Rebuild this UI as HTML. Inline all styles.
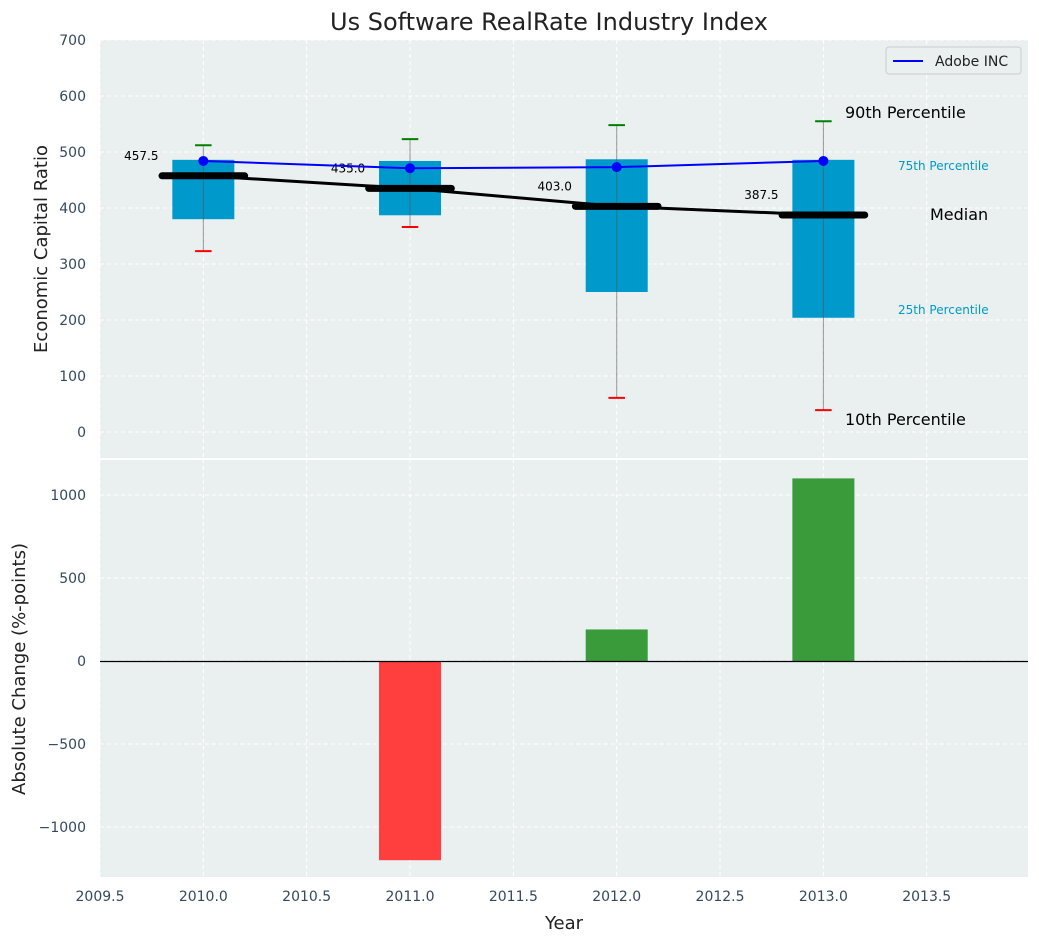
<!DOCTYPE html>
<html><head><meta charset="utf-8"><style>
body{margin:0;background:#fff;font-family:"Liberation Sans","DejaVu Sans",sans-serif}
svg text{font-family:"DejaVu Sans","Liberation Sans",sans-serif}
</style></head><body>
<svg id="c" width="1039" height="942" xmlns="http://www.w3.org/2000/svg"></svg>
<script>
const years=[2010,2011,2012,2013];
const p10=[323,366,61,39];
const p25=[380,387,250,204];
const medians=[457.5,435.0,403.0,387.5];
const p75=[486,484,487,486];
const p90=[512,523,548,555];
const adobe=[484,471,473,484];
const changes=[0,-1200,190,1100];
const topTicks=[0,100,200,300,400,500,600,700];
const botTicks=[-1000,-500,0,500,1000];
const xTicks=[2009.5,2010,2010.5,2011,2011.5,2012,2012.5,2013,2013.5];

const svg=document.getElementById('c');
const NS='http://www.w3.org/2000/svg';
function el(tag,attrs,parent){const e=document.createElementNS(NS,tag);for(const k in attrs)e.setAttribute(k,attrs[k]);(parent||svg).appendChild(e);return e;}
const L=100,R=1028;
const X=v=>L+(v-2009.5)*(R-L)/(2013.99-2009.5);
const T0=40,T1=459,B0=459,B1=877;
const YT=v=>432-v*0.56;
const YB=v=>661-v*0.166;

let r=el('rect',{x:L,y:T0,width:R-L,height:T1-T0,fill:'#eaeff0'});

r=el('rect',{x:L,y:B0+1,width:R-L,height:B1-B0-1,fill:'#eaeff0'});


xTicks.forEach(t=>{
 el('line',{x1:X(t),x2:X(t),y1:T0,y2:T1,stroke:'#fff','stroke-dasharray':'4,3','stroke-width':1});
 el('line',{x1:X(t),x2:X(t),y1:B0,y2:B1,stroke:'#fff','stroke-dasharray':'4,3','stroke-width':1});
 const tx=el('text',{x:X(t),y:B1+24,'text-anchor':'middle','font-size':14,fill:'#34495e'});tx.textContent=t.toFixed(1);
 
});
topTicks.forEach(t=>{
 el('line',{x1:L,x2:R,y1:YT(t),y2:YT(t),stroke:'#fff','stroke-dasharray':'4,3'});
 const tx=el('text',{x:L-14,y:YT(t)+5,'text-anchor':'end','font-size':14,fill:'#34495e'});tx.textContent=t;
 
});
botTicks.forEach(t=>{
 el('line',{x1:L,x2:R,y1:YB(t),y2:YB(t),stroke:'#fff','stroke-dasharray':'4,3'});
 const tx=el('text',{x:L-14,y:YB(t)+5,'text-anchor':'end','font-size':14,fill:'#34495e'});tx.textContent=(t<0?'\u2212'+(-t):t);
 
});
el('line',{x1:L,x2:R,y1:T1,y2:T1,stroke:'#fff','stroke-width':2});

years.forEach((y,i)=>{
 const tx=el('text',{x:X(y-0.3),y:YT(medians[i])-16,'text-anchor':'middle','font-size':12,fill:'#000'});tx.textContent=medians[i].toFixed(1);
 
});
years.forEach((y,i)=>{
 const b=el('rect',{x:X(y-0.15),y:YT(p75[i]),width:X(y+0.15)-X(y-0.15),height:YT(p25[i])-YT(p75[i]),fill:'#0099cc'});
 
 el('line',{x1:X(y),x2:X(y),y1:YT(p90[i]),y2:YT(p10[i]),stroke:'#555','stroke-opacity':0.6,'stroke-width':1});
 const g=el('line',{x1:X(y-0.04),x2:X(y+0.04),y1:YT(p90[i]),y2:YT(p90[i]),stroke:'green','stroke-width':2});
 
 const rd=el('line',{x1:X(y-0.04),x2:X(y+0.04),y1:YT(p10[i]),y2:YT(p10[i]),stroke:'red','stroke-width':2});
 
});
let mp=el('polyline',{points:years.map((y,i)=>X(y)+','+YT(medians[i])).join(' '),fill:'none',stroke:'#000','stroke-width':3});

years.forEach((y,i)=>{
 const m=el('line',{x1:X(y-0.2),x2:X(y+0.2),y1:YT(medians[i]),y2:YT(medians[i]),stroke:'#000','stroke-width':7,'stroke-linecap':'round'});
 
});
let ap=el('polyline',{points:years.map((y,i)=>X(y)+','+YT(adobe[i])).join(' '),fill:'none',stroke:'blue','stroke-width':2});

years.forEach((y,i)=>{const c=el('circle',{cx:X(y),cy:YT(adobe[i]),r:5,fill:'blue'});
 });

const ann=[[845,118,'90th Percentile',16,'#000'],[898,170,'75th Percentile',12,'#0099cc'],[930,220,'Median',16,'#000'],[898,314,'25th Percentile',12,'#0099cc'],[845,425,'10th Percentile',16,'#000']];
ann.forEach(a=>{const t=el('text',{x:a[0],y:a[1],'font-size':a[3],fill:a[4]});t.textContent=a[2];
 });

years.forEach((y,i)=>{
 if(!changes[i])return;
 const v=changes[i];
 const b=el('rect',{x:X(y-0.15),y:Math.min(YB(v),YB(0)),width:X(y+0.15)-X(y-0.15),height:Math.abs(YB(v)-YB(0)),fill:v<0?'#ff3e3e':'#3a9b3a'});
 
});
el('line',{x1:L,x2:R,y1:Math.round(YB(0))+0.5,y2:Math.round(YB(0))+0.5,stroke:'#000','stroke-width':1.2});

const lg=el('g',{});
el('rect',{x:886,y:47,width:135,height:27,rx:3,fill:'#eaeff0',stroke:'#ccc'},lg);
el('line',{x1:893,x2:923,y1:61,y2:61,stroke:'blue','stroke-width':2},lg);
let lt=el('text',{x:935,y:66,'font-size':14,fill:'#222'},lg);lt.textContent='Adobe INC';

let t=el('text',{x:549,y:30,'text-anchor':'middle','font-size':24,fill:'#222'});t.textContent='Us Software RealRate Industry Index';

t=el('text',{x:564,y:929,'text-anchor':'middle','font-size':18,fill:'#222'});t.textContent='Year';

t=el('text',{x:0,y:0,'text-anchor':'middle','font-size':18,fill:'#222',transform:'translate(47,249) rotate(-90)'});t.textContent='Economic Capital Ratio';

t=el('text',{x:0,y:0,'text-anchor':'middle','font-size':18,fill:'#222',transform:'translate(25,669) rotate(-90)'});t.textContent='Absolute Change (%-points)';

</script>
</body></html>
